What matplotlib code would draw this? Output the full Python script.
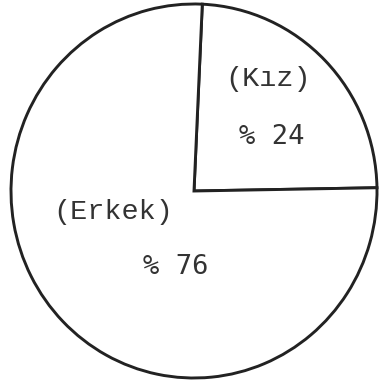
import matplotlib
matplotlib.use("Agg")
import matplotlib.pyplot as plt

# Shares of students by gender
categories = ["(Kız)", "(Erkek)"]
shares = [24, 76]
share_labels = ["% 24", "% 76"]

W, H = 379, 384
fig = plt.figure(figsize=(W / 100, H / 100), dpi=100)
ax = fig.add_axes([0, 0, 1, 1])

ax.pie(
    shares,
    startangle=1,
    counterclock=True,
    colors=["white", "white"],
    wedgeprops=dict(edgecolor="#222222", linewidth=2.1),
)

# Pixel-based scaling of the unit pie
cx, cy = 194, 193        # pie centre (pixels from left / bottom)
rx, ry = 183, 187        # radius in pixels
ax.set_aspect("auto")
ax.set_xlim(-cx / rx, (W - cx) / rx)
ax.set_ylim(-cy / ry, (H - cy) / ry)
ax.axis("off")


def px(x, y):
    return ((x - cx) / rx, (H - y - cy) / ry)


label_font = dict(family=["Liberation Mono", "DejaVu Sans Mono"], fontsize=20.5,
                  color="#333333", ha="center", va="center")
value_font = dict(family=["DejaVu Sans Mono"], fontsize=19.5,
                  color="#333333", ha="center", va="center")

label_pos = [(268, 79), (113, 212)]
value_pos = [(272, 137), (176, 267)]

for name, pos in zip(categories, label_pos):
    ax.text(*px(*pos), name, **label_font)
for val, pos in zip(share_labels, value_pos):
    ax.text(*px(*pos), val, **value_font)

fig.savefig("out.png", dpi=100, facecolor="white")
